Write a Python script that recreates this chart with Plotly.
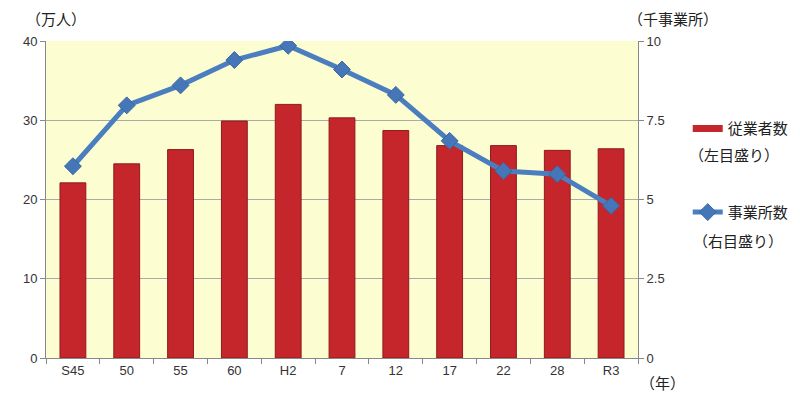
import plotly.graph_objects as go

categories = ["S45", "50", "55", "60", "H2", "7", "12", "17", "22", "28", "R3"]
employees = [22.1, 24.5, 26.3, 29.9, 32.0, 30.3, 28.7, 26.8, 26.8, 26.2, 26.4]
establishments = [6.05, 7.97, 8.6, 9.4, 9.85, 9.1, 8.3, 6.85, 5.9, 5.8, 4.8]
left_ticks = [0, 10, 20, 30, 40]
right_ticks = [0, 2.5, 5, 7.5, 10]
right_tick_text = ["0", "2.5", "5", "7.5", "10"]

jp = "Noto Sans CJK JP"
num = "Liberation Sans"
bar_color = "#C4262B"
line_color = "#4A7EBF"

fig = go.Figure()
fig.add_trace(go.Bar(
    x=categories, y=employees, name="従業者数", showlegend=False,
    marker=dict(color=bar_color, line=dict(color="#8E1B1E", width=1)),
    width=0.48, yaxis="y",
))
# legend entry for bars (flat red bar glyph)
fig.add_trace(go.Scatter(
    x=[None], y=[None], name="従業者数", mode="lines", legendgroup="a",
    line=dict(color=bar_color, width=7), yaxis="y", hoverinfo="skip",
))
fig.add_trace(go.Scatter(
    x=categories, y=establishments, name="事業所数", legendgroup="b",
    mode="lines+markers", yaxis="y2",
    line=dict(color=line_color, width=5),
    marker=dict(symbol="diamond", size=13, color="#4577B8", line=dict(color="#3A66A0", width=1)),
))

jp_font = dict(family=jp, size=15, color="#222222")

fig.update_layout(
    width=800, height=396,
    margin=dict(l=46, r=162, t=41, b=38, autoexpand=False),
    paper_bgcolor="white", plot_bgcolor="#FDFDD2",
    font=dict(family=num, size=13, color="#333333"),
    showlegend=True,
    legend=dict(x=1.084, y=0.775, xanchor="left", yanchor="top",
                font=dict(family=jp, size=15, color="#222222"),
                tracegroupgap=61, itemwidth=30,
                traceorder="grouped", bgcolor="rgba(0,0,0,0)"),
    xaxis=dict(type="category", tickson="boundaries", ticks="outside", ticklen=5,
               tickcolor="#888888", showline=True, linecolor="#888888",
               showgrid=False, tickfont=dict(family=num, size=13, color="#333333"),
               range=[-0.5, 10.5]),
    yaxis=dict(range=[0, 40], tickvals=left_ticks, showgrid=True, gridcolor="#AAAAAA",
               gridwidth=1, showline=True, linecolor="#888888", ticks="outside",
               ticklen=5, tickcolor="#888888", zeroline=False,
               tickfont=dict(family=num, size=13, color="#333333")),
    yaxis2=dict(range=[0, 10], tickvals=right_ticks, ticktext=right_tick_text,
                overlaying="y", side="right", showgrid=False, showline=True,
                linecolor="#888888", ticks="outside", ticklen=5, tickcolor="#888888",
                zeroline=False, tickfont=dict(family=num, size=13, color="#333333")),
    annotations=[
        dict(text="（万人）", x=0, y=1.0, xref="paper", yref="paper",
             xanchor="left", yanchor="bottom", xshift=-22, yshift=10,
             showarrow=False, font=jp_font),
        dict(text="（千事業所）", x=1, y=1.0, xref="paper", yref="paper",
             xanchor="left", yanchor="bottom", xshift=-12, yshift=10,
             showarrow=False, font=jp_font),
        dict(text="（年）", x=1, y=0, xref="paper", yref="paper",
             xanchor="left", yanchor="top", xshift=0, yshift=-12,
             showarrow=False, font=jp_font),
        dict(text="（左目盛り）", x=1, y=0.641, xref="paper", yref="paper",
             xanchor="left", yanchor="middle", xshift=49,
             showarrow=False, font=jp_font),
        dict(text="（右目盛り）", x=1, y=0.372, xref="paper", yref="paper",
             xanchor="left", yanchor="middle", xshift=53,
             showarrow=False, font=jp_font),
    ],
)

fig.write_html("out.html")
